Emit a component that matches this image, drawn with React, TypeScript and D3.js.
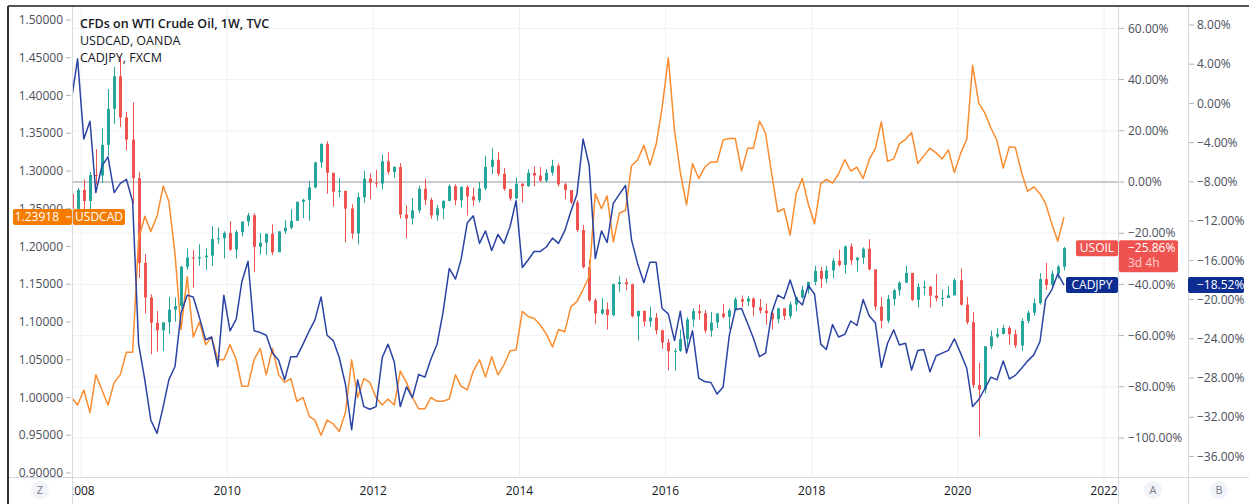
import * as d3 from "d3"
import React, { useEffect, useRef } from "react"

// monthly samples, Nov 2007 .. Jun 2021
const startMonth = new Date(2007, 10, 15)

// USDCAD (left price axis)
const usdcad = [
  1.00, 0.99,
  1.01, 0.98, 1.03, 1.01, 0.99, 1.02, 1.03, 1.06, 1.06, 1.21, 1.24, 1.22,
  1.24, 1.28, 1.26, 1.19, 1.09, 1.16, 1.08, 1.10, 1.07, 1.08, 1.05, 1.05,
  1.07, 1.05, 1.015, 1.015, 1.05, 1.065, 1.03, 1.065, 1.03, 1.02, 1.025, 0.995,
  1.00, 0.975, 0.97, 0.95, 0.97, 0.965, 0.955, 0.98, 1.05, 1.00, 1.025, 1.02,
  1.00, 0.99, 0.998, 0.99, 1.035, 1.02, 1.00, 0.985, 0.985, 1.00, 0.995, 0.995,
  0.998, 1.03, 1.015, 1.01, 1.035, 1.05, 1.027, 1.054, 1.03, 1.043, 1.062, 1.063,
  1.114, 1.107, 1.105, 1.096, 1.084, 1.067, 1.09, 1.087, 1.12, 1.127, 1.143, 1.16,
  1.27, 1.25, 1.267, 1.206, 1.244, 1.248, 1.307, 1.315, 1.334, 1.308, 1.335, 1.384,
  1.45, 1.353, 1.298, 1.255, 1.31, 1.29, 1.305, 1.312, 1.312, 1.341, 1.343, 1.343,
  1.30, 1.33, 1.33, 1.366, 1.35, 1.296, 1.246, 1.25, 1.215, 1.27, 1.29, 1.256,
  1.23, 1.283, 1.289, 1.284, 1.296, 1.315, 1.30, 1.305, 1.29, 1.315, 1.33, 1.365,
  1.313, 1.316, 1.336, 1.342, 1.351, 1.31, 1.32, 1.33, 1.324, 1.316, 1.328, 1.298,
  1.323, 1.342, 1.44, 1.39, 1.377, 1.357, 1.34, 1.304, 1.332, 1.331, 1.298, 1.273,
  1.279, 1.27, 1.257, 1.23, 1.207, 1.23918
]

// USOIL (main series, candles) in USD
const usoilFirstOpen = 94.5
const usoilClose = [
  88.7, 96.0,
  91.75, 101.8, 101.6, 113.5, 127.4, 140.0, 124.1, 115.5, 100.6, 67.8, 54.4, 44.6,
  41.7, 44.8, 49.7, 51.1, 66.3, 69.9, 69.5, 70.0, 70.6, 77.0, 77.3, 79.4,
  72.9, 79.7, 83.8, 86.2, 74.0, 75.6, 79.0, 71.9, 80.0, 81.4, 84.1, 91.4,
  92.2, 97.0, 106.7, 113.9, 102.7, 95.4, 95.7, 88.8, 79.2, 93.2, 100.4, 98.8,
  98.5, 107.1, 103.0, 104.9, 86.5, 85.0, 88.1, 96.5, 92.2, 86.2, 88.9, 91.8,
  97.5, 92.05, 97.2, 93.5, 92.0, 96.6, 105.0, 107.7, 102.3, 96.4, 92.7, 98.4,
  97.5, 102.6, 101.6, 99.7, 102.7, 105.4, 98.2, 96.0, 91.2, 80.5, 66.15, 53.3,
  48.2, 49.8, 47.6, 59.6, 60.3, 59.5, 47.1, 49.2, 45.1, 46.6, 41.65, 37.0,
  33.6, 33.75, 38.3, 45.9, 49.1, 48.3, 41.6, 44.7, 48.2, 46.9, 49.4, 53.7,
  52.8, 54.0, 50.6, 49.3, 48.3, 46.0, 50.2, 47.2, 51.7, 54.4, 57.4, 60.4,
  64.7, 61.6, 64.9, 68.6, 67.0, 74.15, 68.8, 69.8, 73.25, 65.3, 50.9, 45.4,
  53.8, 57.2, 60.1, 63.9, 53.5, 58.5, 58.6, 55.1, 54.1, 54.2, 55.2, 61.1,
  51.6, 44.8, 20.5, 18.8, 35.5, 39.3, 40.3, 42.6, 40.2, 35.8, 45.3, 48.5,
  52.2, 61.5, 59.2, 63.6, 66.3, 73.47
]
const usoilHigh = [
  99.3, 96.8,
  100.1, 103.0, 111.8, 119.9, 135.1, 143.7, 147.3, 126.2, 130.0, 103.0, 71.2, 55.6,
  49.2, 43.7, 54.7, 54.4, 66.7, 73.4, 72.7, 75.0, 73.4, 82.0, 81.5, 80.0,
  83.9, 80.5, 83.8, 87.2, 87.0, 79.3, 79.2, 82.7, 80.0, 84.4, 88.6, 91.6,
  92.6, 99.5, 106.9, 113.9, 114.8, 102.6, 100.6, 95.6, 90.5, 95.0, 103.4, 102.4,
  103.7, 109.8, 110.6, 105.3, 106.4, 90.0, 92.9, 97.7, 100.4, 93.0, 90.2, 92.0,
  98.2, 98.2, 97.4, 97.8, 96.9, 99.1, 109.3, 112.2, 110.7, 104.5, 95.5, 100.7,
  98.6, 104.0, 105.2, 104.9, 104.1, 107.7, 106.3, 98.8, 95.9, 92.0, 82.4, 69.0,
  54.0, 54.2, 52.5, 59.8, 62.6, 61.8, 59.8, 49.3, 49.3, 50.9, 48.4, 42.0,
  38.4, 34.7, 41.9, 46.8, 50.2, 51.7, 49.6, 48.8, 48.4, 51.9, 50.2, 54.5,
  55.2, 54.9, 54.4, 53.8, 52.0, 48.9, 50.4, 50.2, 52.8, 54.8, 59.0, 60.5,
  66.7, 66.3, 66.6, 69.6, 72.9, 74.5, 75.3, 70.0, 73.8, 76.9, 64.0, 54.5,
  55.4, 57.8, 60.7, 66.6, 63.9, 59.9, 60.9, 58.8, 63.4, 57.5, 58.7, 61.9,
  65.6, 54.6, 48.7, 29.1, 35.5, 41.6, 42.5, 43.8, 43.4, 41.9, 46.3, 49.3,
  53.9, 63.8, 67.8, 64.8, 67.0, 74.0
]
const usoilLow = [
  88.0, 85.9,
  86.1, 86.1, 98.0, 98.7, 109.1, 121.6, 120.4, 111.3, 90.5, 62.0, 48.2, 32.4,
  33.5, 33.6, 40.2, 45.0, 50.2, 65.1, 58.3, 66.6, 65.1, 66.6, 75.2, 69.5,
  72.4, 69.5, 78.0, 82.0, 64.2, 71.0, 71.0, 70.8, 72.8, 79.0, 80.8, 84.0,
  85.1, 84.1, 96.6, 104.6, 94.6, 89.6, 93.2, 75.7, 77.1, 74.95, 91.0, 92.5,
  97.0, 96.2, 102.0, 100.7, 85.0, 77.3, 82.6, 87.0, 90.1, 84.8, 84.1, 84.7,
  91.7, 90.1, 89.3, 86.1, 89.9, 91.1, 95.9, 102.2, 101.3, 95.7, 91.8, 92.4,
  91.2, 97.2, 97.4, 99.1, 98.9, 101.6, 97.4, 92.5, 90.5, 79.8, 65.7, 52.7,
  44.2, 47.7, 42.0, 47.1, 56.5, 57.2, 46.7, 37.75, 43.2, 43.0, 40.1, 34.5,
  26.2, 26.0, 33.3, 35.2, 43.0, 45.8, 40.6, 39.2, 42.5, 46.2, 42.2, 49.9,
  50.7, 51.2, 47.1, 48.2, 43.8, 42.05, 44.4, 45.6, 46.3, 49.1, 53.9, 55.8,
  59.1, 58.1, 59.9, 61.8, 66.3, 63.6, 67.0, 64.4, 67.4, 64.9, 49.4, 42.4,
  44.4, 51.2, 55.1, 60.0, 53.0, 50.6, 55.2, 50.5, 52.8, 50.9, 54.6, 55.3,
  51.3, 44.0, 19.3, 0.5, 17.3, 34.4, 38.7, 40.1, 36.1, 34.9, 33.6, 44.3,
  47.3, 51.6, 57.3, 57.6, 61.6, 64.9
]
const usoilBase = 99.1

// CADJPY (compare series, axis B)
const cadjpy = [
  110.5, 115.0,
  106, 108, 100, 103, 104, 100, 101, 101.5, 99, 83, 79, 74.5,
  73, 76, 79, 80.5, 86.5, 88.5, 88.3, 86, 83.5, 83.8, 80.5, 88.5,
  84.5, 85.8, 90, 92.3, 84.5, 84.3, 84, 82, 81.2, 79, 81.6, 81.6,
  83, 84.5, 85.7, 88.3, 84, 83.4, 81.5, 78.5, 73.4, 79, 76, 75.7,
  76, 81.5, 83, 81, 76, 78.2, 77, 79.6, 79.3, 81.3, 83, 86.6,
  91.5, 90.3, 92.5, 96.6, 97.4, 94.3, 95.7, 93.5, 95.3, 94.3, 96.2, 99.1,
  91.6, 92.5, 93.4, 93.4, 93.9, 94.9, 94.3, 95.7, 97.9, 99.8, 106, 103.1,
  92.6, 95.7, 94.4, 98.8, 99.8, 100.8, 94.7, 92, 89.9, 92.2, 92.2, 87.0,
  86.4, 83.4, 86.7, 82, 84.5, 79.2, 78.8, 78.7, 77.4, 78.2, 84, 86.9,
  87, 85.3, 83.7, 81.6, 82, 86.5, 88.5, 88.1, 90.2, 88.1, 87.4, 89.6,
  88.6, 83, 82.4, 85.2, 83.8, 84.1, 85.6, 85.1, 88, 86.2, 85.4, 80.4,
  83.1, 84.6, 82.9, 83.1, 80.1, 82.3, 82.4, 79.9, 81.7, 82, 82.3, 83.6,
  82, 80.3, 76, 76.8, 78, 79.3, 79, 81.1, 79.1, 79.5, 80.3, 81.1,
  81.8, 83.3, 88, 89.1, 90.9, 89.63
]
const cadjpyBase = 110

// axis ticks
const leftTicks = [0.9, 0.95, 1.0, 1.05, 1.1, 1.15, 1.2, 1.25, 1.3, 1.35, 1.4, 1.45, 1.5]
const aTicks = [-100, -80, -60, -40, -20, 0, 20, 40, 60]
const bTicks = [-36, -32, -28, -24, -20, -16, -12, -8, -4, 0, 4, 8]
const yearTicks = [2008, 2010, 2012, 2014, 2016, 2018, 2020, 2022]

const legendLines = ["CFDs on WTI Crude Oil, 1W, TVC", "USDCAD, OANDA", "CADJPY, FXCM"]

// layout
const plotLeft = 72, plotRight = 1118, plotTop = 7, plotBottom = 477, bRight = 1188

const UP = "#26a69a", DOWN = "#ef5350"
const ORANGE = "#fb8c2e", BLUE = "#2a43a3"
const TXT = "#131722", GRID = "#eef0f4", SEP = "#d6d9e0"

const minus = (s: string) => s.replace("-", "\u2212")

export default function App() {
  const ref = useRef<SVGSVGElement>(null)

  useEffect(() => {
    const svg = d3.select(ref.current)
    svg.selectAll("*").remove()

    const dates = usdcad.map((_, i) => d3.timeMonth.offset(startMonth, i))

    const x = d3.scaleTime()
      .domain([new Date(2008, 0, 1), new Date(2022, 0, 1)])
      .range([81, 1104])
    const yL = d3.scaleLinear().domain([0.9, 1.5]).range([473, 20])
    const yA = d3.scaleLinear().domain([-100, 60]).range([438, 28.4])
    const yB = d3.scaleLinear().domain([-36, 8]).range([456.5, 25])

    svg.append("rect").attr("width", 1249).attr("height", 504).attr("fill", "#fff")

    svg.append("defs").append("clipPath").attr("id", "plotclip")
      .append("rect")
      .attr("x", plotLeft).attr("y", plotTop)
      .attr("width", plotRight - plotLeft).attr("height", plotBottom - plotTop)

    // grid
    const grid = svg.append("g").attr("clip-path", "url(#plotclip)")
    grid.selectAll("line.v").data(yearTicks).enter().append("line")
      .attr("x1", d => x(new Date(d, 0, 1))).attr("x2", d => x(new Date(d, 0, 1)))
      .attr("y1", plotTop).attr("y2", plotBottom)
      .attr("stroke", GRID)
    grid.selectAll("line.h").data(aTicks).enter().append("line")
      .attr("x1", plotLeft).attr("x2", plotRight)
      .attr("y1", d => yA(d)).attr("y2", d => yA(d))
      .attr("stroke", d => d === 0 ? "#9598a1" : GRID)

    const plot = svg.append("g").attr("clip-path", "url(#plotclip)")

    // candles
    const pct = (v: number) => (v / usoilBase - 1) * 100
    const candles = usoilClose.map((c, i) => ({
      date: dates[i],
      open: i === 0 ? usoilFirstOpen : usoilClose[i - 1],
      close: c,
      high: usoilHigh[i],
      low: usoilLow[i]
    }))
    const cg = plot.append("g")
    cg.selectAll("line").data(candles).enter().append("line")
      .attr("x1", d => Math.round(x(d.date)) + 0.5).attr("x2", d => Math.round(x(d.date)) + 0.5)
      .attr("y1", d => yA(pct(d.high))).attr("y2", d => yA(pct(d.low)))
      .attr("stroke", d => d.close >= d.open ? UP : DOWN)
    cg.selectAll("rect").data(candles).enter().append("rect")
      .attr("x", d => Math.round(x(d.date)) - 1)
      .attr("width", 3)
      .attr("y", d => yA(pct(Math.max(d.open, d.close))))
      .attr("height", d => Math.max(1, Math.abs(yA(pct(d.open)) - yA(pct(d.close)))))
      .attr("fill", d => d.close >= d.open ? UP : DOWN)

    // USDCAD line
    plot.append("path")
      .datum(usdcad)
      .attr("fill", "none").attr("stroke", ORANGE).attr("stroke-width", 1.5)
      .attr("stroke-linejoin", "round")
      .attr("d", d3.line<number>().x((_, i) => x(dates[i])).y(d => yL(d)))

    // CADJPY line
    plot.append("path")
      .datum(cadjpy)
      .attr("fill", "none").attr("stroke", BLUE).attr("stroke-width", 1.5)
      .attr("stroke-linejoin", "round")
      .attr("d", d3.line<number>().x((_, i) => x(dates[i])).y(d => yB((d / cadjpyBase - 1) * 100)))

    // separators
    const sep = svg.append("g").attr("stroke", SEP)
    sep.append("line").attr("x1", 8).attr("x2", 1249).attr("y1", plotBottom + 0.5).attr("y2", plotBottom + 0.5)
    ;[plotLeft, plotRight, bRight].forEach(px => {
      sep.append("line").attr("x1", px + 0.5).attr("x2", px + 0.5).attr("y1", plotTop).attr("y2", 504)
    })

    // left axis
    const la = svg.append("g").attr("font-size", 12).attr("fill", "#4a4e59")
    la.selectAll("text").data(leftTicks).enter().append("text")
      .attr("x", 63).attr("y", d => yL(d)).attr("dy", "0.35em")
      .attr("text-anchor", "end").text(d => d3.format(".5f")(d))
    la.selectAll("line").data(leftTicks).enter().append("line")
      .attr("x1", 66).attr("x2", 71).attr("y1", d => yL(d)).attr("y2", d => yL(d))
      .attr("stroke", "#b2b5be")

    // right axis A
    const aa = svg.append("g").attr("font-size", 12).attr("fill", "#4a4e59")
    aa.selectAll("text").data(aTicks).enter().append("text")
      .attr("x", 1128).attr("y", d => yA(d)).attr("dy", "0.35em")
      .text(d => minus(d3.format(".2f")(d)) + "%")
    aa.selectAll("line").data(aTicks).enter().append("line")
      .attr("x1", 1119).attr("x2", 1124).attr("y1", d => yA(d)).attr("y2", d => yA(d))
      .attr("stroke", "#b2b5be")

    // right axis B
    const ba = svg.append("g").attr("font-size", 12).attr("fill", "#4a4e59")
    ba.selectAll("text").data(bTicks).enter().append("text")
      .attr("x", 1197).attr("y", d => yB(d)).attr("dy", "0.35em")
      .text(d => minus(d3.format(".2f")(d)) + "%")
    ba.selectAll("line").data(bTicks).enter().append("line")
      .attr("x1", 1189).attr("x2", 1194).attr("y1", d => yB(d)).attr("y2", d => yB(d))
      .attr("stroke", "#b2b5be")

    // bottom axis
    svg.append("defs").append("clipPath").attr("id", "xclip")
      .append("rect").attr("x", plotLeft + 1).attr("y", plotBottom).attr("width", plotRight - plotLeft - 1).attr("height", 27)
    svg.append("g").attr("clip-path", "url(#xclip)")
      .selectAll("text").data(yearTicks).enter().append("text")
      .attr("x", d => x(new Date(d, 0, 1))).attr("y", 495)
      .attr("text-anchor", "middle").attr("font-size", 12).attr("fill", TXT)
      .text(d => d)

    // Z / A / B buttons
    ;[["Z", 40], ["A", 1153], ["B", 1219]].forEach(([t, cx]) => {
      svg.append("circle").attr("cx", cx).attr("cy", 490).attr("r", 9).attr("fill", "#f0f3fa")
      svg.append("text").attr("x", cx).attr("y", 490).attr("dy", "0.35em")
        .attr("text-anchor", "middle").attr("font-size", 11).attr("fill", "#787b86").text(t)
    })

    // legend
    svg.selectAll("text.legend").data(legendLines).enter().append("text")
      .attr("x", 80).attr("y", (_, i) => 28 + i * 17)
      .attr("font-size", 12.5).attr("fill", TXT)
      .attr("font-weight", (_, i) => i === 0 ? 600 : 400)
      .text(d => d)

    // price labels
    const lastCad = usdcad[usdcad.length - 1]
    const yc = yL(lastCad)
    svg.append("rect").attr("x", 13).attr("y", yc - 8).attr("width", 59).attr("height", 16).attr("rx", 2).attr("fill", "#f57c00")
    svg.append("text").attr("x", 59).attr("y", yc).attr("dy", "0.35em").attr("text-anchor", "end")
      .attr("font-size", 12).attr("fill", "#fff").text(d3.format(".5f")(lastCad))
    svg.append("line").attr("x1", 66).attr("x2", 71).attr("y1", yc).attr("y2", yc).attr("stroke", "#fff")
    svg.append("rect").attr("x", 73).attr("y", yc - 8).attr("width", 52).attr("height", 16).attr("rx", 2).attr("fill", "#f57c00")
    svg.append("text").attr("x", 99).attr("y", yc).attr("dy", "0.35em").attr("text-anchor", "middle")
      .attr("font-size", 12).attr("fill", "#fff").text("USDCAD")

    const lastOil = pct(usoilClose[usoilClose.length - 1])
    const yo = yA(lastOil)
    svg.append("rect").attr("x", 1076).attr("y", yo - 8).attr("width", 42).attr("height", 16).attr("rx", 2).attr("fill", DOWN)
    svg.append("text").attr("x", 1097).attr("y", yo).attr("dy", "0.35em").attr("text-anchor", "middle")
      .attr("font-size", 12).attr("fill", "#fff").text("USOIL")
    svg.append("rect").attr("x", 1119).attr("y", yo - 8).attr("width", 59).attr("height", 32).attr("rx", 2).attr("fill", DOWN)
    svg.append("text").attr("x", 1128).attr("y", yo).attr("dy", "0.35em")
      .attr("font-size", 12).attr("fill", "#fff").text(minus(d3.format(".2f")(lastOil)) + "%")
    svg.append("text").attr("x", 1128).attr("y", yo + 15).attr("dy", "0.35em")
      .attr("font-size", 12).attr("fill", "#fbd0cf").text("3d 4h")

    const lastJpy = (cadjpy[cadjpy.length - 1] / cadjpyBase - 1) * 100
    const yj = yB(lastJpy)
    svg.append("rect").attr("x", 1066).attr("y", yj - 8).attr("width", 52).attr("height", 16).attr("rx", 2).attr("fill", "#0d2d92")
    svg.append("text").attr("x", 1092).attr("y", yj).attr("dy", "0.35em").attr("text-anchor", "middle")
      .attr("font-size", 12).attr("fill", "#fff").text("CADJPY")
    svg.append("rect").attr("x", 1188).attr("y", yj - 8).attr("width", 56).attr("height", 16).attr("rx", 2).attr("fill", "#0d2d92")
    svg.append("text").attr("x", 1197).attr("y", yj).attr("dy", "0.35em")
      .attr("font-size", 12).attr("fill", "#fff").text(minus(d3.format(".2f")(lastJpy)) + "%")

    // window frame
    svg.append("line").attr("x1", 8).attr("x2", 1249).attr("y1", 6).attr("y2", 6).attr("stroke", "#555").attr("stroke-width", 2)
    svg.append("line").attr("x1", 8).attr("x2", 8).attr("y1", 6).attr("y2", 504).attr("stroke", "#333").attr("stroke-width", 2)
  }, [])

  return (
    <svg
      ref={ref}
      width={1249}
      height={504}
      style={{ position: "absolute", left: 0, top: 0, fontFamily: "'Open Sans', sans-serif" }}
    />
  )
}
